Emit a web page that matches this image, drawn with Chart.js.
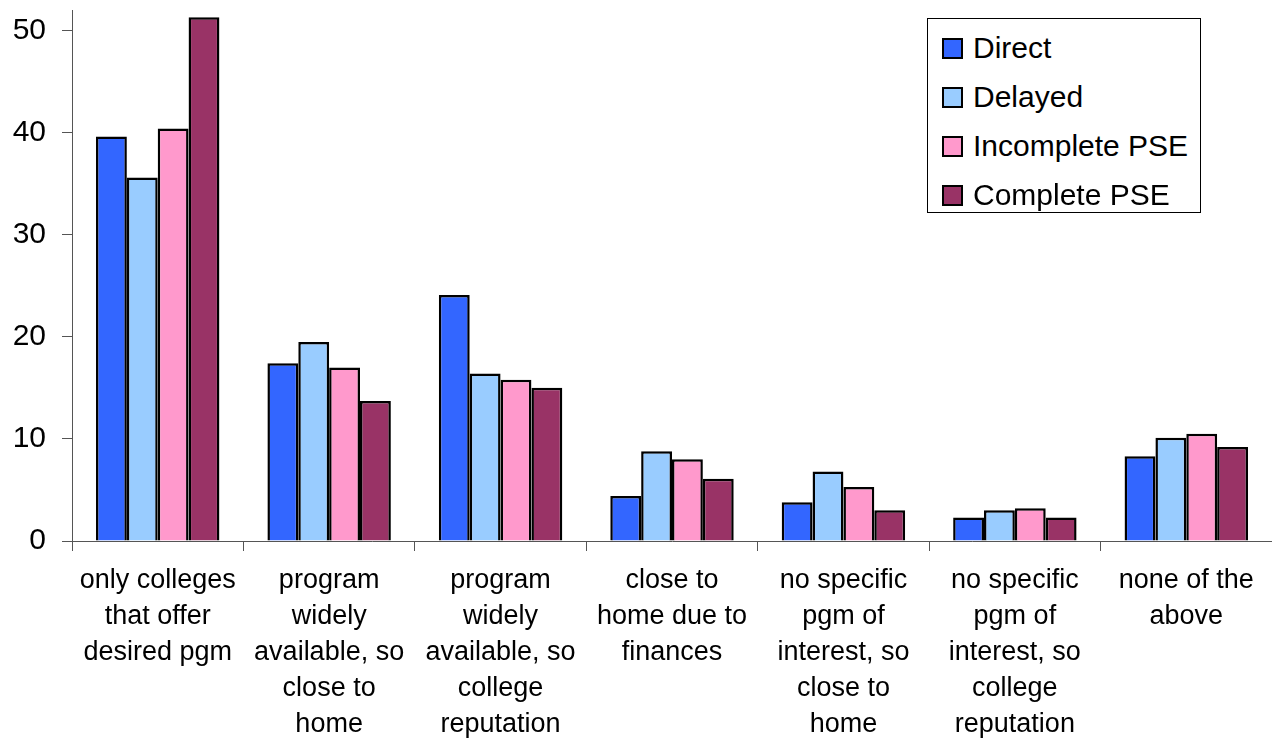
<!DOCTYPE html>
<html>
<head>
<meta charset="utf-8">
<script src="https://cdn.jsdelivr.net/npm/chart.js@4.4.1/dist/chart.umd.min.js"></script>
<style>
    html, body { margin: 0; padding: 0; background: #fff; overflow: hidden; }
    #wrap { position: relative; width: 1272px; height: 738px; }
    #legend {
        position: absolute; left: 927px; top: 18px; width: 274px; height: 195px;
        border: 1px solid #000; background: #fff; box-sizing: border-box; padding-top: 4px;
        font-family: "Liberation Sans", Arial, sans-serif; font-size: 30px; color: #000;
    }
    .item { position: relative; height: 49px; }
    .swatch { position: absolute; left: 14px; top: 15px; width: 17px; height: 17px; border: 2px solid #000; }
    .label { position: absolute; left: 45px; top: 0; line-height: 49px; white-space: nowrap; }
</style>
</head>
<body>
<div id="wrap">
    <canvas id="chart" width="1272" height="738"></canvas>
    <div id="legend"></div>
</div>
<script>
// categories (multi-line labels as in the picture)
const categories = [
    ['only colleges', 'that offer', 'desired pgm'],
    ['program', 'widely', 'available, so', 'close to', 'home'],
    ['program', 'widely', 'available, so', 'college', 'reputation'],
    ['close to', 'home due to', 'finances'],
    ['no specific', 'pgm of', 'interest, so', 'close to', 'home'],
    ['no specific', 'pgm of', 'interest, so', 'college', 'reputation'],
    ['none of the', 'above']
];

const seriesNames = ['Direct', 'Delayed', 'Incomplete PSE', 'Complete PSE'];
const seriesColors = ['#3366FF', '#99CCFF', '#FF99CC', '#993366'];

const direct = [39.6, 17.4, 24.1, 4.4, 3.8, 2.3, 8.3];
const delayed = [35.6, 19.5, 16.4, 8.8, 6.8, 3.0, 10.1];
const incomplete = [40.4, 17.0, 15.8, 8.0, 5.3, 3.2, 10.5];
const complete = [51.3, 13.7, 15.0, 6.1, 3.0, 2.3, 9.2];

const yTicks = [0, 10, 20, 30, 40, 50];

const seriesValues = [direct, delayed, incomplete, complete];
const fontFamily = '"Liberation Sans", Arial, sans-serif';
const axisColor = '#555';

// html legend with a box, like the original
const legend = document.getElementById('legend');
seriesNames.forEach((name, i) => {
    const item = document.createElement('div');
    item.className = 'item';
    item.innerHTML = `<span class="swatch" style="background:${seriesColors[i]}"></span><span class="label">${name}</span>`;
    legend.appendChild(item);
});

const ctx = document.getElementById('chart').getContext('2d');
new Chart(ctx, {
    type: 'bar',
    data: {
        labels: categories,
        datasets: seriesNames.map((name, i) => ({
            label: name,
            data: seriesValues[i],
            backgroundColor: seriesColors[i],
            borderColor: '#000',
            borderWidth: 2.5,
            categoryPercentage: 0.72,
            barPercentage: 1.0
        }))
    },
    options: {
        responsive: false,
        animation: false,
        layout: { padding: { top: 10, left: 0, right: 0, bottom: 0 } },
        plugins: {
            legend: { display: false },
            tooltip: { enabled: false }
        },
        scales: {
            x: {
                grid: { drawOnChartArea: false, tickLength: 10, color: axisColor, offset: true },
                border: { color: axisColor, width: 1 },
                ticks: {
                    color: '#000',
                    font: { family: fontFamily, size: 27, lineHeight: 1.333 },
                    padding: 12,
                    maxRotation: 0,
                    autoSkip: false
                },
                afterFit: (scale) => {
                    scale.height = 197;
                    scale.paddingLeft = 0;
                    scale.paddingRight = 0;
                }
            },
            y: {
                min: 0,
                max: 52,
                grid: { drawOnChartArea: false, tickLength: 10, color: axisColor },
                border: { color: axisColor, width: 1 },
                ticks: {
                    color: '#000',
                    font: { family: fontFamily, size: 30 },
                    padding: 16
                },
                afterBuildTicks: (scale) => {
                    scale.ticks = yTicks.map(v => ({ value: v }));
                },
                afterFit: (scale) => {
                    scale.width = 72;
                    scale.paddingTop = 0;
                    scale.paddingBottom = 0;
                }
            }
        }
    }
});
</script>
</body>
</html>
